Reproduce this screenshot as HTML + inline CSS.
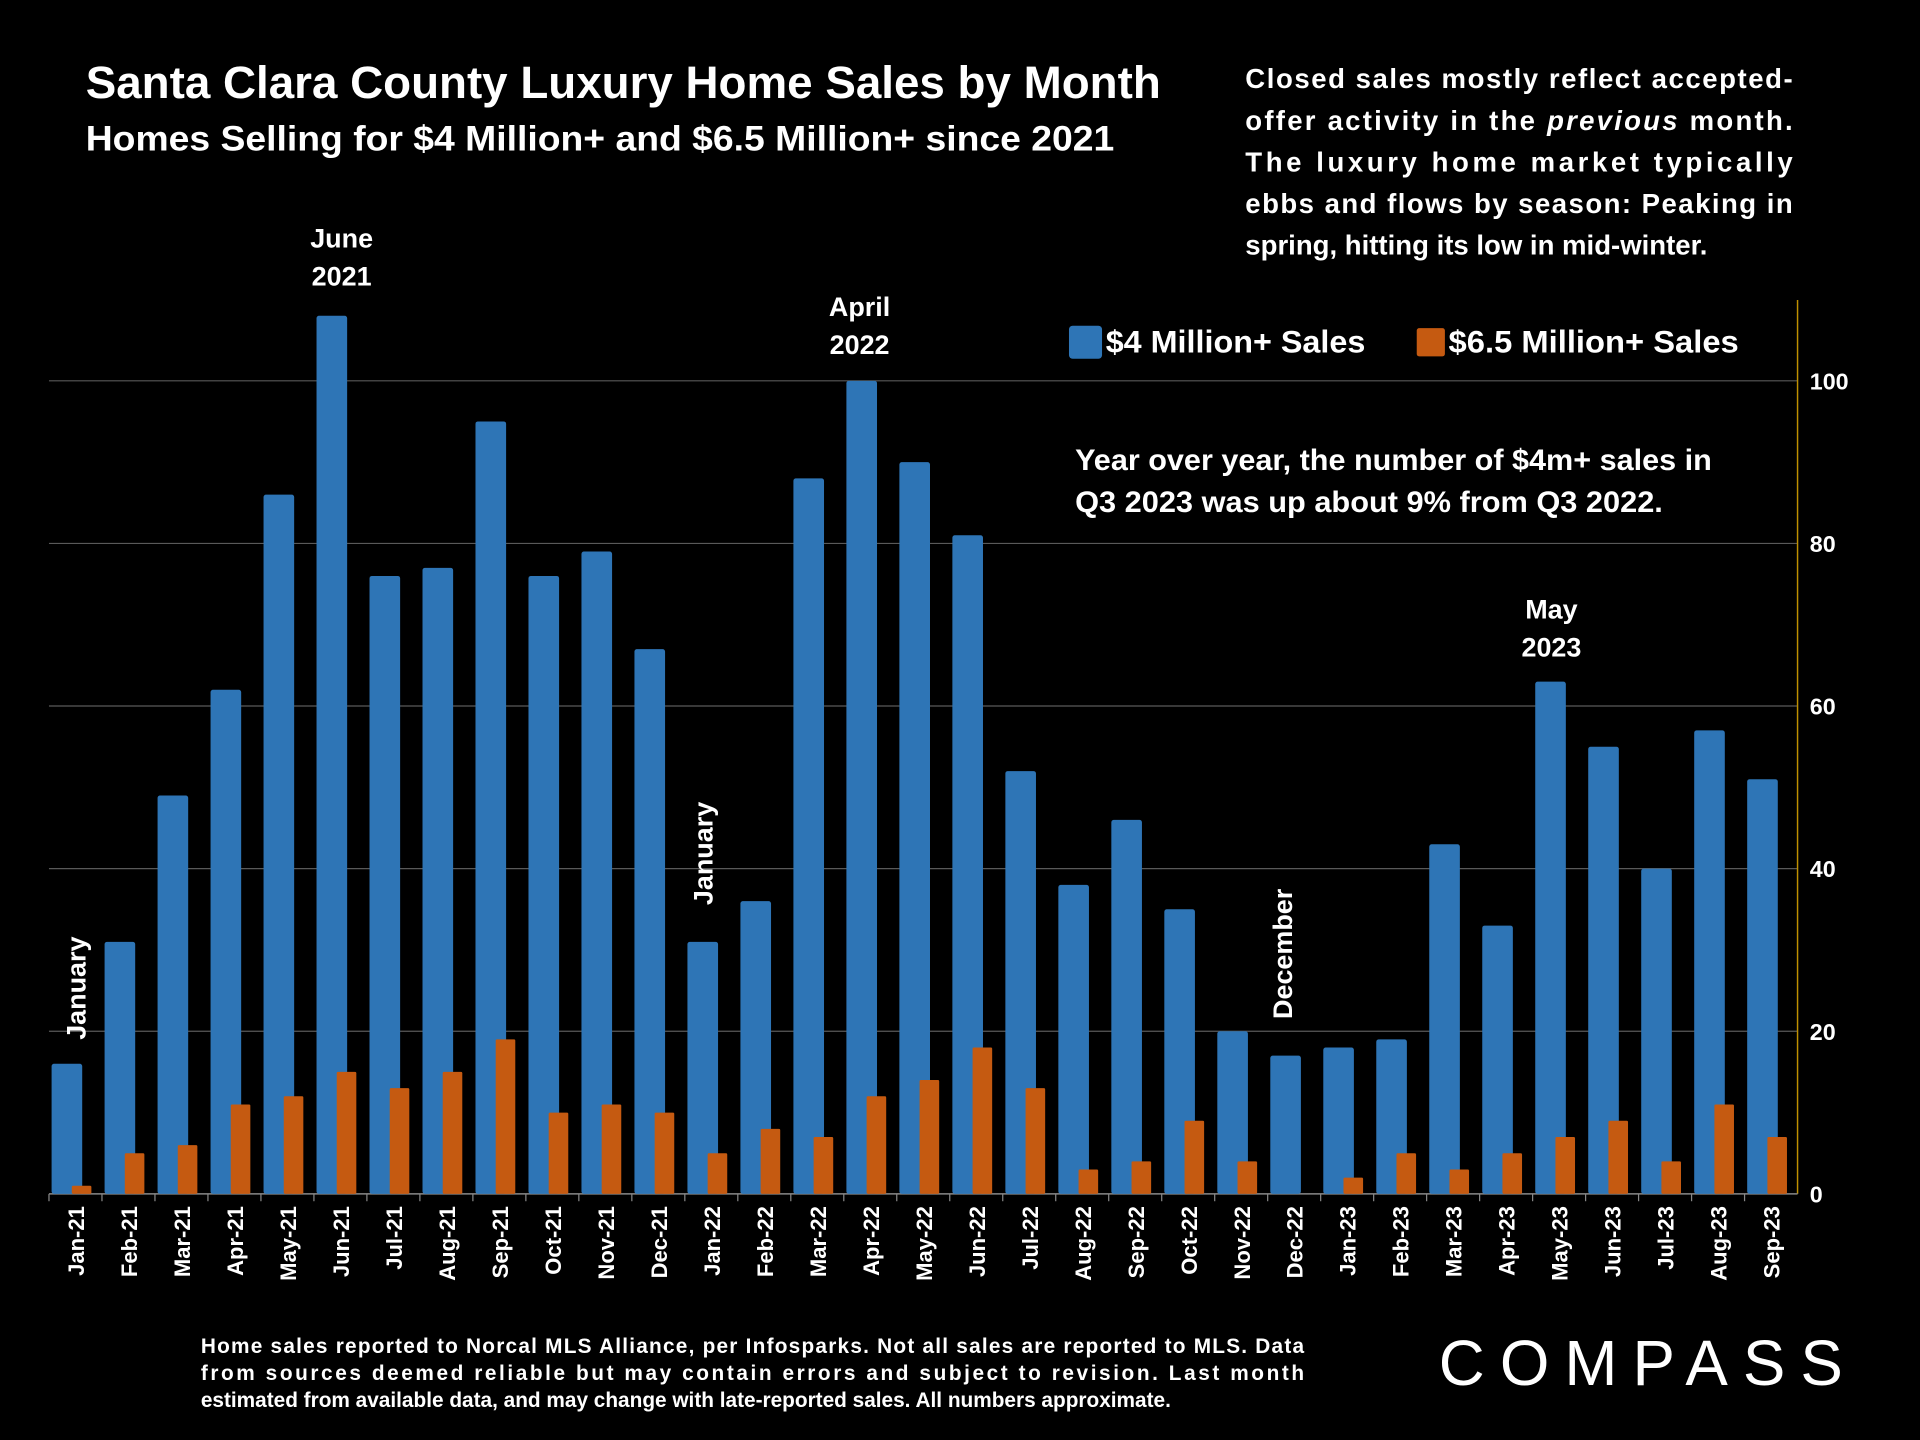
<!DOCTYPE html>
<html><head><meta charset="utf-8">
<style>
html,body{margin:0;padding:0;background:#000;}
svg{display:block;}
text{font-family:"Liberation Sans",sans-serif;fill:#fff;font-weight:bold;}
</style></head>
<body>
<svg id="chart" width="1920" height="1440" viewBox="0 0 1568 1176" xmlns="http://www.w3.org/2000/svg">
<rect width="1568" height="1176" fill="#000"/>
<text x="70" y="80" font-size="37" textLength="878" lengthAdjust="spacingAndGlyphs">Santa Clara County Luxury Home Sales by Month</text>
<text x="70" y="123" font-size="29" textLength="840" lengthAdjust="spacingAndGlyphs">Homes Selling for $4 Million+ and $6.5 Million+ since 2021</text>
<g font-size="22.5">
<text x="1017" y="72" textLength="447" lengthAdjust="spacing">Closed sales mostly reflect accepted-</text>
<text x="1017" y="106" textLength="447" lengthAdjust="spacing">offer activity in the <tspan font-style="italic">previous</tspan> month.</text>
<text x="1017" y="140" textLength="447" lengthAdjust="spacing">The luxury home market typically</text>
<text x="1017" y="174" textLength="447" lengthAdjust="spacing">ebbs and flows by season: Peaking in</text>
<text x="1017" y="208">spring, hitting its low in mid-winter.</text>
</g>
<g id="grid"></g>
<g id="bars"></g>
<g id="xlabels"></g>
<g id="ylabels"></g>
<g font-size="26">
<rect x="873" y="266" width="27" height="27" rx="3" fill="#2E75B6"/>
<text x="903" y="288" textLength="212" lengthAdjust="spacingAndGlyphs">$4 Million+ Sales</text>
<rect x="1157" y="268" width="23" height="23" rx="2" fill="#C55A11"/>
<text x="1183" y="288" textLength="237" lengthAdjust="spacingAndGlyphs">$6.5 Million+ Sales</text>
</g>
<g font-size="24.5">
<text x="878" y="384" textLength="520" lengthAdjust="spacingAndGlyphs">Year over year, the number of $4m+ sales in</text>
<text x="878" y="418" textLength="480" lengthAdjust="spacingAndGlyphs">Q3 2023 was up about 9% from Q3 2022.</text>
</g>
<g font-size="22" text-anchor="middle">
<text x="279" y="202">June</text><text x="279" y="233">2021</text>
<text x="702" y="258">April</text><text x="702" y="289">2022</text>
<text x="1267" y="505">May</text><text x="1267" y="536">2023</text>
<text transform="translate(70,807) rotate(-90)">January</text>
<text transform="translate(582,697) rotate(-90)">January</text>
<text transform="translate(1055,779) rotate(-90)">December</text>
</g>
<g font-size="17">
<text x="164" y="1105" textLength="901" lengthAdjust="spacing">Home sales reported to Norcal MLS Alliance, per Infosparks. Not all sales are reported to MLS. Data</text>
<text x="164" y="1127" textLength="901" lengthAdjust="spacing">from sources deemed reliable but may contain errors and subject to revision.  Last month</text>
<text x="164" y="1149">estimated from available data, and may change with late-reported sales. All numbers approximate.</text>
</g>
<text x="1175" y="1131" font-size="52" textLength="330" lengthAdjust="spacing" style="font-weight:normal">COMPASS</text>
</svg>
<script>
const categories=["Jan-21","Feb-21","Mar-21","Apr-21","May-21","Jun-21","Jul-21","Aug-21","Sep-21","Oct-21","Nov-21","Dec-21","Jan-22","Feb-22","Mar-22","Apr-22","May-22","Jun-22","Jul-22","Aug-22","Sep-22","Oct-22","Nov-22","Dec-22","Jan-23","Feb-23","Mar-23","Apr-23","May-23","Jun-23","Jul-23","Aug-23","Sep-23"];
const sales4m=[16,31,49,62,86,108,76,77,95,76,79,67,31,36,88,100,90,81,52,38,46,35,20,17,18,19,43,33,63,55,40,57,51];
const sales65m=[1,5,6,11,12,15,13,15,19,10,11,10,5,8,7,12,14,18,13,3,4,9,4,0,2,5,3,5,7,9,4,11,7];
const yTicks=[0,20,40,60,80,100];
const NS="http://www.w3.org/2000/svg";
const L=40,R=1468,Y0=975,Y100=311;
const y=v=>Y0-(Y0-Y100)*v/100;
const bw=(R-L)/categories.length;
const xc=i=>L+(i+0.5)*bw;
function mk(t,a,p){const e=document.createElementNS(NS,t);for(const k in a)e.setAttribute(k,a[k]);p.appendChild(e);return e;}
const grid=document.getElementById('grid'),bars=document.getElementById('bars'),xl=document.getElementById('xlabels'),yl=document.getElementById('ylabels');
yTicks.forEach(t=>{
 if(t>0){const g=mk('line',{x1:L,x2:R,y1:y(t),y2:y(t),stroke:'#595959','stroke-width':1},grid);
 
 }
 const tx=mk('text',{x:1478,y:y(t)+7,'font-size':19},yl);tx.textContent=t;
 
 
});
const ax=mk('line',{x1:1468,x2:1468,y1:245,y2:Y0,stroke:'#BF9000','stroke-width':1.2},grid);


const xa=mk('line',{x1:L,x2:R,y1:Y0,y2:Y0,stroke:'#888','stroke-width':1.2},grid);


categories.forEach((c,i)=>{
 const cx=xc(i);
 const b=mk('rect',{x:cx-19.5,y:y(sales4m[i]),width:25,height:Y0-y(sales4m[i]),fill:'#2E75B6',rx:2},bars);
 
 
 if(sales65m[i]>0){const o=mk('rect',{x:cx-3,y:y(sales65m[i]),width:16,height:Y0-y(sales65m[i]),fill:'#C55A11',rx:1},bars);
 
 }
 const tk=mk('line',{x1:L+i*bw,x2:L+i*bw,y1:Y0,y2:Y0+6,stroke:'#888'},grid);
 
 
 const t=mk('text',{transform:`translate(${cx+7},${Y0+10}) rotate(-90)`,'font-size':18,'text-anchor':'end'},xl);
 t.textContent=c;
 
 
});
</script>
</body></html>
